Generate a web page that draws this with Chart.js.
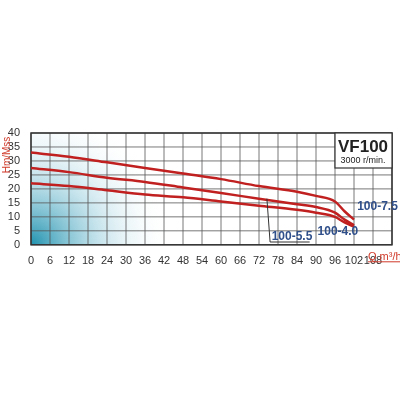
<!DOCTYPE html>
<html><head><meta charset="utf-8">
<script src="https://cdn.jsdelivr.net/npm/chart.js@4/dist/chart.umd.min.js"></script>
<style>html,body{margin:0;background:#fff}#wrap{width:400px;height:400px}</style>
</head><body><div id="wrap"><canvas id="c"></canvas></div>
<script>
const xTicks = [0,6,12,18,24,30,36,42,48,54,60,66,72,78,84,90,96,102,108];
const yTicks = [0,5,10,15,20,25,30,35,40];
const flow = [0,12,24,36,48,60,72,84,90,96,99,102];
const h75 = [33,31.5,29.5,27.5,25.5,23.5,21,19,17.5,15.5,12,9];
const h55 = [27.5,26,24,22.5,20.5,18.5,16.5,14.5,13.5,11.5,9,7];
const h40 = [22,21,19.5,18,17,15.5,14,12.5,11.5,10,8,6.5];
const names = ['100-7.5','100-5.5','100-4.0'];

const pts = (ys) => flow.map((x, i) => ({x, y: ys[i]}));
const ds = (ys) => ({data: pts(ys), borderColor: '#c0201f', borderWidth: 2.5, pointRadius: 0, cubicInterpolationMode: 'monotone'});

const deco = {
  id: 'deco',
  beforeDatasetsDraw(chart) {
    const {ctx, chartArea: a} = chart;
    const g = ctx.createRadialGradient(a.left, a.bottom, 0, a.left, a.bottom, 140);
    g.addColorStop(0, 'rgba(20,140,170,0.95)');
    g.addColorStop(0.5, 'rgba(120,190,210,0.4)');
    g.addColorStop(1, 'rgba(255,255,255,0)');
    ctx.save();
    ctx.fillStyle = g;
    ctx.fillRect(a.left, a.top, a.right - a.left, a.bottom - a.top);
    ctx.restore();
    const xs = chart.scales.x, ys = chart.scales.y;
    ctx.save();
    ctx.strokeStyle = '#555'; ctx.lineWidth = 0.8;
    for (let v = 0; v <= 114; v += 6) { const p = xs.getPixelForValue(v); ctx.beginPath(); ctx.moveTo(p, a.top); ctx.lineTo(p, a.bottom); ctx.stroke(); }
    for (const v of yTicks) { const p = ys.getPixelForValue(v); ctx.beginPath(); ctx.moveTo(a.left, p); ctx.lineTo(a.right, p); ctx.stroke(); }
    ctx.lineWidth = 1.5; ctx.strokeStyle = '#333';
    ctx.strokeRect(a.left, a.top, a.right - a.left, a.bottom - a.top);
    ctx.restore();
  },
  afterDatasetsDraw(chart) {
    const {ctx, chartArea: a} = chart;
    const xs = chart.scales.x, ys = chart.scales.y;
    ctx.save();
    ctx.fillStyle = '#fff'; ctx.strokeStyle = '#333'; ctx.lineWidth = 1.2;
    ctx.fillRect(a.right - 57, a.top, 57, 35); ctx.strokeRect(a.right - 57, a.top, 57, 35);
    ctx.fillStyle = '#222'; ctx.textAlign = 'center';
    ctx.font = 'bold 17px "Liberation Sans Narrow", Arial, sans-serif';
    ctx.fillText('VF100', a.right - 29, a.top + 19);
    ctx.font = '9px "Liberation Sans", sans-serif';
    ctx.fillText('3000 r/min.', a.right - 29, a.top + 30);
    ctx.fillStyle = '#2f4f8a'; ctx.font = 'bold 12px "Liberation Sans Narrow", Arial, sans-serif'; ctx.textAlign = 'left';
    ctx.fillText(names[0], xs.getPixelForValue(103), ys.getPixelForValue(12.5));
    ctx.fillText(names[2], xs.getPixelForValue(90.5), ys.getPixelForValue(3.5));
    ctx.fillText(names[1], xs.getPixelForValue(76), ys.getPixelForValue(1.8));
    ctx.strokeStyle = '#333'; ctx.lineWidth = 1;
    ctx.beginPath();
    ctx.moveTo(xs.getPixelForValue(74.5), ys.getPixelForValue(16.5));
    ctx.lineTo(xs.getPixelForValue(75.5), ys.getPixelForValue(1));
    ctx.lineTo(xs.getPixelForValue(88), ys.getPixelForValue(1));
    ctx.stroke();
    ctx.fillStyle = '#d03a2a'; ctx.font = '11px "Liberation Sans Narrow", Arial, sans-serif';
    ctx.fillText('Q m³/h', a.right - 24, a.bottom + 15);
    ctx.beginPath(); ctx.strokeStyle = '#d03a2a';
    ctx.moveTo(a.right - 24, a.bottom + 17); ctx.lineTo(a.right + 8, a.bottom + 17); ctx.stroke();
    ctx.translate(10, a.top + 22); ctx.rotate(-Math.PI / 2); ctx.textAlign = 'center';
    ctx.font = '10px "Liberation Sans Narrow", Arial, sans-serif';
    ctx.fillText('Hm/Mss', 0, 0);
    ctx.restore();
  }
};

new Chart(document.getElementById('c'), {
  type: 'line',
  data: {datasets: [ds(h75), ds(h55), ds(h40)]},
  plugins: [deco],
  options: {
    responsive: true, maintainAspectRatio: false, animation: false,
    layout: {padding: {top: 133, bottom: 130, right: 8, left: 0}},
    plugins: {legend: {display: false}, tooltip: {enabled: false}},
    scales: {
      x: {type: 'linear', min: 0, max: 114,
        afterBuildTicks: (s) => { s.ticks = xTicks.map(v => ({value: v})); },
        grid: {display: false}, border: {display: false},
        ticks: {color: '#333', padding: 2, maxRotation: 0, autoSkip: false, font: {family: '"Liberation Sans Narrow", Arial', size: 11}}},
      y: {min: 0, max: 40, afterFit: (s) => { s.width = 31; },
        afterBuildTicks: (s) => { s.ticks = yTicks.map(v => ({value: v})); },
        grid: {display: false}, border: {display: false},
        ticks: {autoSkip: false, color: '#333', padding: 3, font: {family: '"Liberation Sans Narrow", Arial', size: 11}}}
    }
  }
});
</script></body></html>
